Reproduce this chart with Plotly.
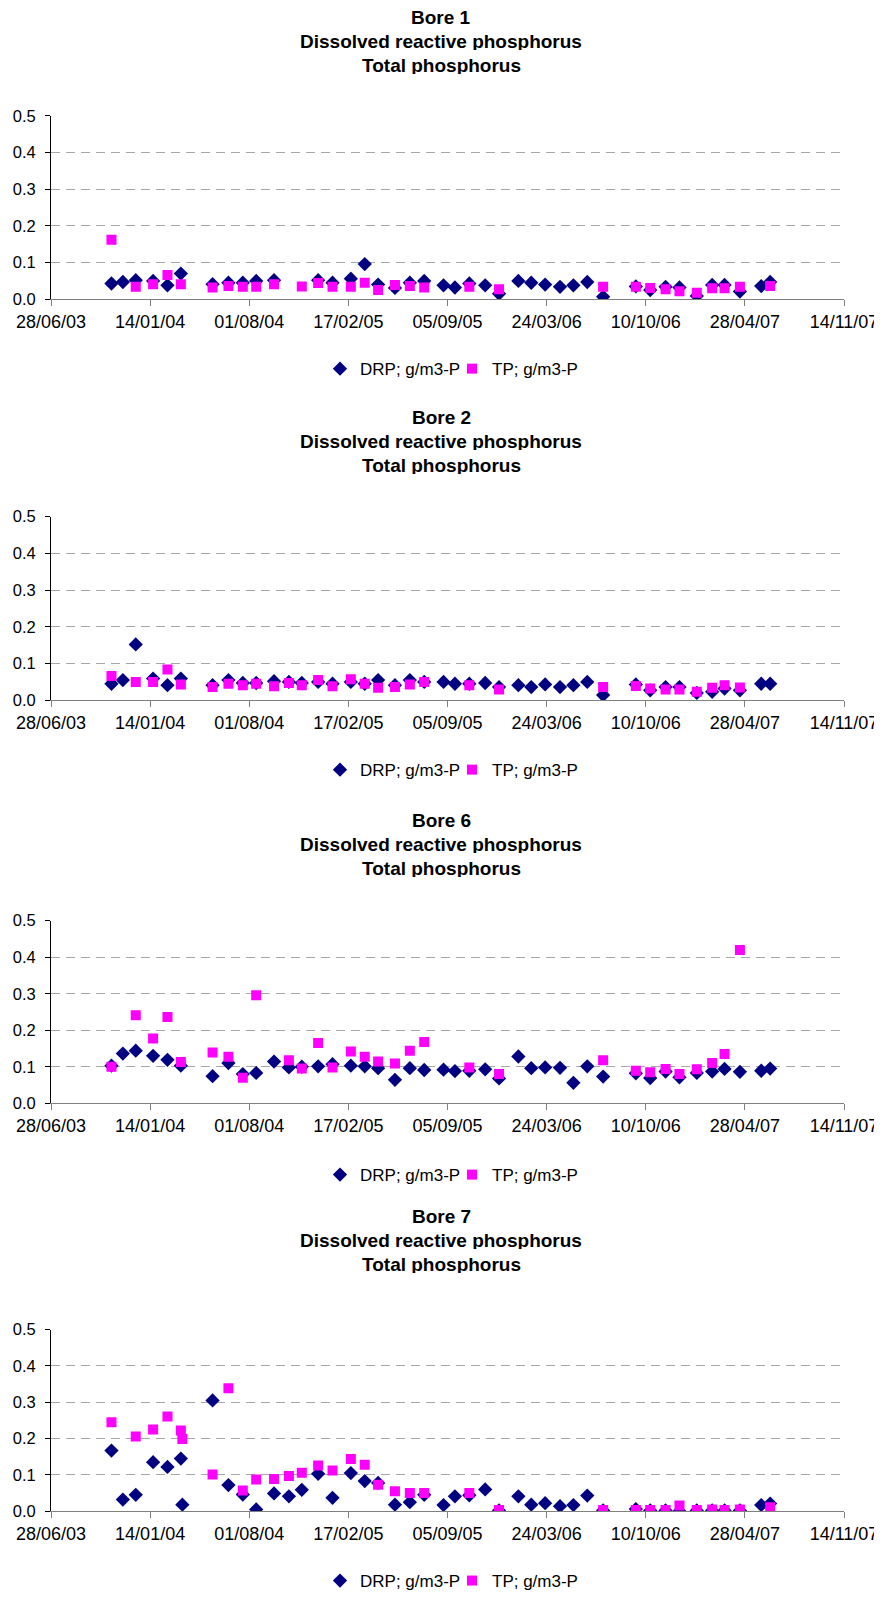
import plotly.graph_objects as go

# ---------------- data ----------------
sample_dates = [
    "2003-10-28", "2003-11-20", "2003-12-16", "2004-01-20", "2004-02-18", "2004-03-16", "2004-03-19",
    "2004-05-19", "2004-06-20", "2004-07-19", "2004-08-15", "2004-09-20", "2004-10-20", "2004-11-15",
    "2004-12-18", "2005-01-16", "2005-02-22", "2005-03-22", "2005-04-18", "2005-05-22", "2005-06-21",
    "2005-07-20", "2005-08-28", "2005-09-20", "2005-10-19", "2005-11-20", "2005-12-18", "2006-01-26",
    "2006-02-21", "2006-03-21", "2006-04-20", "2006-05-17", "2006-06-14", "2006-07-16", "2006-09-20",
    "2006-10-19", "2006-11-19", "2006-12-17", "2007-01-21", "2007-02-21", "2007-03-18", "2007-04-18",
    "2007-05-31", "2007-06-18",
]

bore1_drp = [0.043, 0.047, 0.052, 0.050, 0.038, 0.070, None,
             0.041, 0.045, 0.045, 0.050, 0.052, None, None,
             0.052, 0.045, 0.056, 0.096, 0.040, 0.031, 0.045,
             0.050, 0.038, 0.032, 0.043, 0.038, 0.015, 0.050,
             0.045, 0.040, 0.034, 0.038, 0.047, 0.007, 0.035,
             0.025, 0.034, 0.032, 0.009, 0.039, 0.039, 0.021,
             0.036, 0.047]
bore1_tp = [0.162, None, 0.034, 0.041, 0.066, 0.041, None,
            0.032, 0.036, 0.034, 0.034, 0.041, None, 0.035,
            0.044, 0.034, 0.034, 0.045, 0.025, 0.039, 0.036,
            0.032, None, None, 0.034, None, 0.027, None,
            None, None, None, None, None, 0.034, 0.034,
            0.031, 0.027, 0.022, 0.018, 0.030, 0.030, 0.034,
            None, 0.036]

bore2_drp = [0.045, 0.055, 0.152, 0.059, 0.041, 0.059, None,
             0.041, 0.055, 0.047, 0.047, 0.052, 0.050, 0.047,
             0.050, 0.045, 0.050, 0.045, 0.055, 0.041, 0.055,
             0.050, 0.050, 0.045, 0.045, 0.047, 0.036, 0.041,
             0.036, 0.043, 0.036, 0.041, 0.050, 0.014, 0.043,
             0.027, 0.036, 0.036, 0.020, 0.023, 0.032, 0.027,
             0.045, 0.045]
bore2_tp = [0.066, None, 0.050, 0.050, 0.084, 0.043, None,
            0.036, 0.045, 0.041, 0.045, 0.038, 0.047, 0.041,
            0.055, 0.038, 0.057, 0.045, 0.034, 0.036, 0.043,
            0.050, None, None, 0.041, None, 0.029, None,
            None, None, None, None, None, 0.036, 0.039,
            0.032, 0.029, 0.029, 0.023, 0.034, 0.041, 0.035,
            None, None]

bore6_drp = [0.103, 0.136, 0.144, 0.130, 0.119, 0.103, None,
             0.074, 0.110, 0.080, 0.083, 0.114, 0.098, 0.100,
             0.101, 0.107, 0.103, 0.101, 0.096, 0.064, 0.096,
             0.091, 0.092, 0.088, 0.089, 0.093, 0.068, 0.128,
             0.096, 0.098, 0.097, 0.056, 0.101, 0.073, 0.082,
             0.069, 0.087, 0.071, 0.083, 0.087, 0.094, 0.086,
             0.089, 0.095]
bore6_tp = [0.100, None, 0.241, 0.177, 0.236, 0.113, None,
            0.139, 0.127, 0.070, 0.296, None, 0.118, 0.095,
            0.165, 0.098, 0.142, 0.127, 0.114, 0.109, 0.144,
            0.168, None, None, 0.098, None, 0.080, None,
            None, None, None, None, None, 0.118, 0.089,
            0.085, 0.094, 0.080, 0.093, 0.110, 0.135, 0.420,
            None, None]

bore7_drp = [0.167, 0.032, 0.045, 0.135, 0.122, 0.145, 0.018,
             0.305, 0.072, 0.046, 0.005, 0.049, 0.041, 0.059,
             0.103, 0.037, 0.105, 0.083, 0.078, 0.018, 0.025,
             0.045, 0.017, 0.041, 0.044, 0.060, 0.002, 0.041,
             0.018, 0.022, 0.014, 0.017, 0.043, 0.002, 0.006,
             0.002, 0.002, 0.000, 0.002, 0.002, 0.002, 0.002,
             0.017, 0.021]
bore7_tp = [0.245, None, 0.206, 0.225, 0.261, 0.222, 0.199,
            0.101, 0.339, 0.057, 0.087, 0.089, 0.097, 0.106,
            0.126, 0.112, 0.144, 0.128, 0.073, 0.055, 0.050,
            0.050, None, None, 0.050, None, 0.003, None,
            None, None, None, None, None, 0.003, 0.003,
            0.003, 0.003, 0.016, 0.003, 0.005, 0.003, 0.005,
            None, 0.011]

bore_names = ["Bore 1", "Bore 2", "Bore 6", "Bore 7"]
drp_series = [bore1_drp, bore2_drp, bore6_drp, bore7_drp]
tp_series = [bore1_tp, bore2_tp, bore6_tp, bore7_tp]
subtitle_lines = ["Dissolved reactive phosphorus", "Total phosphorus"]
drp_name = "DRP; g/m3-P"
tp_name = "TP; g/m3-P"
x_range = ["2003-06-28", "2007-11-14"]
y_ticks = [0.0, 0.1, 0.2, 0.3, 0.4, 0.5]

# ---------------- layout geometry (page pixels) ----------------
PAGE_W, PAGE_H = 882, 1599
BODY_MARGIN = 8                      # default <body> margin of the html page
W, H = PAGE_W - BODY_MARGIN, PAGE_H - BODY_MARGIN
FONT = "Arial, Liberation Sans, sans-serif"
plot_x0, plot_x1 = 51, 844
legend_left = 320
panels = [  # (plot top, plot bottom, title first line centre, legend centre) in page px
    (116, 300, 17, 370),
    (518, 702, 418, 772),
    (923, 1106, 822, 1178),
    (1333, 1515, 1219, 1585),
]
LINE_GAP = 24.3
DRP_COLOR = "#000080"
TP_COLOR = "#FF00FF"


def fx(px):
    return (px - BODY_MARGIN) / W


def fy(px):
    return 1 - (px - BODY_MARGIN) / H


fig = go.Figure()
annotations = []
layout_extra = {}
DAY_MS = 86400000

for i, (name, drp, tp) in enumerate(zip(bore_names, drp_series, tp_series)):
    top, bot, ttl, leg = panels[i]
    sfx = "" if i == 0 else str(i + 1)
    xa, ya = "x" + sfx, "y" + sfx
    lg = "legend" + sfx
    fig.add_trace(go.Scatter(
        x=sample_dates, y=drp, mode="markers", name=drp_name,
        marker=dict(symbol="diamond", size=11, color=DRP_COLOR, line=dict(width=0)),
        xaxis=xa, yaxis=ya, legend=lg, showlegend=True,
    ))
    fig.add_trace(go.Scatter(
        x=sample_dates, y=tp, mode="markers", name=tp_name,
        marker=dict(symbol="square", size=10, color=TP_COLOR, line=dict(width=0)),
        xaxis=xa, yaxis=ya, legend=lg, showlegend=True,
    ))
    layout_extra["xaxis" + sfx] = dict(
        domain=[fx(plot_x0), fx(plot_x1)], anchor=ya, type="date",
        range=x_range, tick0=x_range[0], dtick=200 * DAY_MS, tickformat="%d/%m/%y",
        showgrid=False, showline=True, linecolor="#808080", linewidth=1,
        ticks="outside", ticklen=6, tickcolor="#808080",
        tickfont=dict(family=FONT, size=18, color="#000000"),
        zeroline=False, fixedrange=True, automargin=False,
    )
    layout_extra["yaxis" + sfx] = dict(
        domain=[fy(bot), fy(top)], anchor=xa, range=[0, 0.5],
        tickvals=y_ticks, tickformat=".1f",
        showgrid=True, gridcolor="#A8A8A8", gridwidth=1, griddash="9px,6px",
        showline=True, linecolor="#000000", linewidth=1,
        ticks="outside", ticklen=5, tickcolor="#000000", ticklabelstandoff=6,
        tickfont=dict(family=FONT, size=16.5, color="#000000"),
        zeroline=False, fixedrange=True, automargin=False,
    )
    layout_extra[lg] = dict(
        orientation="h", x=fx(legend_left), xanchor="left", y=fy(leg), yanchor="middle",
        font=dict(family=FONT, size=17, color="#000000"),
        bgcolor="rgba(0,0,0,0)", itemwidth=30, tracegroupgap=0,
        entrywidth=87, entrywidthmode="pixels",
    )
    for j, line in enumerate([name] + subtitle_lines):
        annotations.append(dict(
            text="<b>%s</b>" % line, x=0.5 - BODY_MARGIN / 2 / W, xref="paper", xanchor="center",
            y=fy(ttl + j * LINE_GAP), yref="paper", yanchor="middle", height=18,
            showarrow=False, font=dict(family=FONT, size=19, color="#000000"),
        ))

fig.update_layout(
    width=W, height=H, margin=dict(l=0, r=0, t=0, b=0),
    paper_bgcolor="#FFFFFF", plot_bgcolor="#FFFFFF",
    annotations=annotations, **layout_extra,
)

fig.write_html("out.html")
